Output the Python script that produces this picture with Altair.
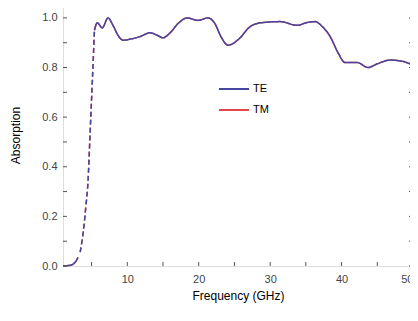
import altair as alt
import pandas as pd

freq = [1.0, 2.0, 2.7, 3.1, 3.4, 3.85, 4.2, 4.5, 4.8, 5.1, 5.4, 5.8, 6.5, 7.3, 8.0, 8.7, 9.4,
        10.5, 11.8, 13.2, 14.2, 15.0, 16.0, 17.2, 18.4, 19.9, 21.3, 22.2, 23.2, 24.1, 25.8,
        27.0, 28.6, 31.4, 33.8, 35.0, 36.3, 37.3, 38.4, 39.5, 40.5, 42.2, 43.7, 45.0, 46.8,
        48.5, 50.0]
te = [0.0, 0.003, 0.015, 0.035, 0.056, 0.14, 0.24, 0.34, 0.54, 0.74, 0.95, 0.98, 0.96, 1.0,
      0.97, 0.93, 0.91, 0.915, 0.925, 0.94, 0.93, 0.92, 0.94, 0.98, 1.0, 0.99, 1.0, 0.98,
      0.92, 0.89, 0.92, 0.96, 0.98, 0.985, 0.97, 0.98, 0.985, 0.965, 0.925, 0.86, 0.82,
      0.82, 0.80, 0.815, 0.83, 0.825, 0.81]
tm = list(te)
series = ["TE", "TM"]
colors = ["#46469e", "#e04848"]
x_major = [10, 20, 30, 40, 50]
x_minor = [5, 15, 25, 35, 45]
y_major = [0.0, 0.2, 0.4, 0.6, 0.8, 1.0]
y_minor = [0.1, 0.3, 0.5, 0.7, 0.9]

W, H = 350, 262


def part_of(f):
    if f < 3.4:
        return "a", "solid"
    if f <= 5.4:
        return "b", "dash"
    return "c", "solid"


rows = []
for name, vals in (("TM", tm), ("TE", te)):
    for f, v in zip(freq, vals):
        p, d = part_of(f)
        rows.append({"f": f, "a": v, "s": name, "part": p, "dash": d})
        if f in (3.4, 5.4):
            p2 = "b" if f == 3.4 else "c"
            d2 = "dash" if f == 3.4 else "solid"
            rows.append({"f": f, "a": v, "s": name, "part": p2, "dash": d2})
df = pd.DataFrame(rows)

xs = alt.Scale(domain=[1, 50], nice=False, zero=False)
ys = alt.Scale(domain=[0, 1.056], nice=False, zero=False)
cs = alt.Scale(domain=series, range=colors)


def line_layer(name, legend):
    return alt.Chart(df[df.s == name]).mark_line(strokeWidth=1.5, interpolate="monotone").encode(
        x=alt.X("f:Q", scale=xs, title="Frequency (GHz)",
                axis=alt.Axis(values=x_major, ticks=False, domain=False, grid=False,
                              labelFontSize=11, labelColor="#444", labelPadding=7,
                              titleFontSize=12, titleFontWeight="normal", titlePadding=6,
                              labelFont="Liberation Sans", titleFont="Liberation Sans")),
        y=alt.Y("a:Q", scale=ys, title="Absorption",
                axis=alt.Axis(values=y_major, format=".1f", ticks=False, domain=False, grid=False,
                              labelFontSize=11, labelColor="#444", labelPadding=6,
                              titleFontSize=12, titleFontWeight="normal", titlePadding=19,
                              labelFont="Liberation Sans", titleFont="Liberation Sans")),
        color=alt.Color("s:N", scale=cs, title=None,
                        legend=alt.Legend(orient="none", legendX=155, legendY=69,
                                          symbolType="stroke", symbolSize=900,
                                          symbolStrokeWidth=2, labelFontSize=11,
                                          labelFont="Liberation Sans", rowPadding=-13,
                                          labelOffset=3, padding=0) if legend else None),
        strokeDash=alt.StrokeDash("dash:N", scale=alt.Scale(domain=["solid", "dash"],
                                                           range=[[1, 0], [5, 3]]), legend=None),
        detail="part:N",
    )


tick_df = pd.DataFrame(
    [{"v": v, "len": 5} for v in x_major] + [{"v": v, "len": 3} for v in x_minor]
)
ytick_df = pd.DataFrame(
    [{"v": v, "len": 5} for v in y_major] + [{"v": v, "len": 3} for v in y_minor]
)

xt = alt.Chart(tick_df).mark_rule(color="#555", strokeWidth=1).encode(
    x=alt.X("v:Q", scale=xs), y=alt.value(H), y2=alt.value(H - 4))
yt_left = alt.Chart(ytick_df).mark_rule(color="#555", strokeWidth=1).encode(
    y=alt.Y("v:Q", scale=ys), x=alt.value(0), x2=alt.value(4))
yt_right = alt.Chart(ytick_df).mark_rule(color="#555", strokeWidth=1).encode(
    y=alt.Y("v:Q", scale=ys), x=alt.value(W), x2=alt.value(W - 4))

chart = alt.layer(line_layer("TM", True), line_layer("TE", True), xt, yt_left, yt_right).properties(
    width=W, height=H,
    autosize=alt.AutoSizeParams(type="none"),
    padding={"left": 55, "top": -4, "right": -3, "bottom": 40},
).configure_view(stroke="#555", strokeWidth=1.2).configure(background="white")

chart.save("out.html", embed_options={"renderer": "svg", "actions": False})
